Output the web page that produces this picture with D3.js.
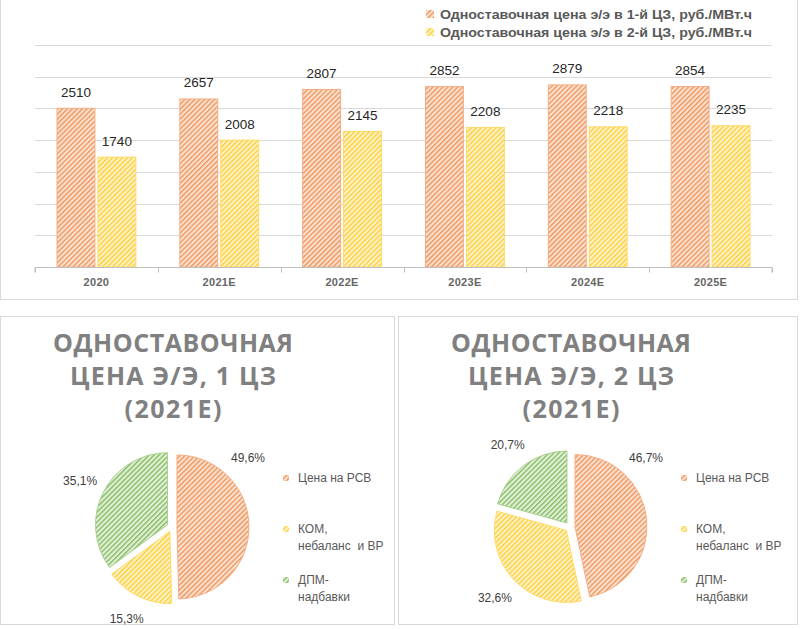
<!DOCTYPE html>
<html>
<head>
<meta charset="utf-8">
<script src="https://cdn.jsdelivr.net/npm/d3@7"></script>
<style>
  body { margin: 0; background: #ffffff; }
  svg { display: block; }
</style>
</head>
<body>
<svg id="chart" width="800" height="629"></svg>
<script>
// --- data ---
const years = ["2020", "2021E", "2022E", "2023E", "2024E", "2025E"];
const zone1 = [2510, 2657, 2807, 2852, 2879, 2854];
const zone2 = [1740, 2008, 2145, 2208, 2218, 2235];
const seriesNames = [
    "Одноставочная цена э/э в 1-й ЦЗ, руб./МВт.ч",
    "Одноставочная цена э/э в 2-й ЦЗ, руб./МВт.ч"
];
const yTicks = [0, 500, 1000, 1500, 2000, 2500, 3000, 3500];

const pieParts = ["Цена на РСВ", "КОМ,|небаланс  и ВР", "ДПМ-|надбавки"];
const pie1 = [49.6, 15.3, 35.1];
const pie2 = [46.7, 32.6, 20.7];
const pieTitles = [
    ["ОДНОСТАВОЧНАЯ", "ЦЕНА Э/Э, 1 ЦЗ", "(2021E)"],
    ["ОДНОСТАВОЧНАЯ", "ЦЕНА Э/Э, 2 ЦЗ", "(2021E)"]
];

const hatches = [
    { id: "hOrange", bg: "#FCE2D1", line: "#F0955C", edge: "#F3AE84" },
    { id: "hYellow", bg: "#FFF4C8", line: "#FFCD3A", edge: "#FFD966" },
    { id: "hGreen",  bg: "#E2F0D9", line: "#86BC62", edge: "#A9D18E" }
];

const svg = d3.select("#chart");
const font = "'Liberation Sans', Arial, sans-serif";

// hatch patterns
const defs = svg.append("defs");
hatches.forEach(h => {
    const p = defs.append("pattern")
        .attr("id", h.id)
        .attr("patternUnits", "userSpaceOnUse")
        .attr("width", 3.5).attr("height", 3.5)
        .attr("patternTransform", "rotate(45)");
    p.append("rect").attr("width", 3.5).attr("height", 3.5).attr("fill", h.bg);
    p.append("rect").attr("width", 1.4).attr("height", 3.5).attr("fill", h.line);
});

// panels
svg.append("rect").attr("x", 0.5).attr("y", -1).attr("width", 797).attr("height", 300.5)
    .attr("fill", "#fff").attr("stroke", "#D9D9D9");
svg.append("rect").attr("x", 0.5).attr("y", 316.5).attr("width", 394).attr("height", 308)
    .attr("fill", "#fff").attr("stroke", "#D9D9D9");
svg.append("rect").attr("x", 398.5).attr("y", 316.5).attr("width", 399).attr("height", 308)
    .attr("fill", "#fff").attr("stroke", "#D9D9D9");

// --- bar chart ---
const x0 = d3.scaleBand().domain(years).range([35, 772]).paddingInner(0.35).paddingOuter(0.175);
const x1 = d3.scaleBand().domain([0, 1]).range([0, x0.bandwidth()]).paddingInner(0.05);
const y = d3.scaleLinear().domain([0, 3500]).range([267, 45]);

svg.append("g").selectAll("line")
    .data(yTicks.filter(t => t > 0))
    .join("line")
    .attr("x1", 35).attr("x2", 772)
    .attr("y1", d => Math.round(y(d)) + 0.5).attr("y2", d => Math.round(y(d)) + 0.5)
    .attr("stroke", "#D9D9D9");

const series = [zone1, zone2];
const groups = svg.append("g").selectAll("g")
    .data(years)
    .join("g")
    .attr("transform", d => `translate(${x0(d)},0)`);

groups.selectAll("rect")
    .data((d, i) => series.map((s, k) => ({ k, v: s[i] })))
    .join("rect")
    .attr("x", d => x1(d.k) + 0.5)
    .attr("y", d => y(d.v) + 0.5)
    .attr("width", x1.bandwidth() - 1)
    .attr("height", d => y(0) - y(d.v) - 0.5)
    .attr("fill", d => `url(#${hatches[d.k].id})`)
    .attr("stroke", d => hatches[d.k].edge)
    .attr("stroke-width", 1);

groups.selectAll("text.val")
    .data((d, i) => series.map((s, k) => ({ k, v: s[i] })))
    .join("text")
    .attr("class", "val")
    .attr("x", d => x1(d.k) + x1.bandwidth() / 2)
    .attr("y", d => y(d.v) - 11)
    .attr("text-anchor", "middle")
    .attr("font-family", font)
    .attr("font-size", 13.5)
    .attr("fill", "#262626")
    .text(d => d.v);

// axis
const axis = d3.axisBottom(x0).tickSize(0).tickPadding(11);
const axG = svg.append("g").attr("transform", `translate(0,${y(0) + 0.5})`).call(axis);
axG.select(".domain").attr("stroke", "#BFBFBF").attr("d", "M35,5V0H772V5");
axG.selectAll("text")
    .attr("font-family", font)
    .attr("font-size", 11)
    .attr("font-weight", "bold")
    .attr("letter-spacing", 0.3)
    .attr("fill", "#666666");
const step = x0.step();
axG.append("g").selectAll("line")
    .data(d3.range(years.length + 1))
    .join("line")
    .attr("x1", i => Math.round(35 + i * step) + 0.5)
    .attr("x2", i => Math.round(35 + i * step) + 0.5)
    .attr("y1", 0).attr("y2", 5)
    .attr("stroke", "#BFBFBF");

// top legend
const leg = svg.append("g").selectAll("g")
    .data(seriesNames)
    .join("g")
    .attr("transform", (d, i) => `translate(426,${14 + i * 18})`);
leg.append("rect")
    .attr("x", 0).attr("y", -4).attr("width", 8).attr("height", 8)
    .attr("fill", (d, i) => `url(#${hatches[i].id})`);
leg.append("text")
    .attr("x", 14).attr("y", 5)
    .attr("font-family", font)
    .attr("font-size", 13)
    .attr("font-weight", "bold")
    .attr("fill", "#595959")
    .attr("textLength", 312)
    .attr("lengthAdjust", "spacingAndGlyphs")
    .text(d => d);

// --- pies ---
const radius = 72;
const explode = 5;
const pie = d3.pie().sort(null).value(d => d);
const arc = d3.arc().innerRadius(0).outerRadius(radius);

function drawPie(values, titles, ox) {
    const g = svg.append("g").attr("transform", `translate(${ox},0)`);

    // title
    const titleWidths = [240, 206, 97];
    g.selectAll("text.title")
        .data(titles)
        .join("text")
        .attr("class", "title")
        .attr("x", 173)
        .attr("y", (d, i) => 352 + i * 33)
        .attr("text-anchor", "middle")
        .attr("font-family", "'Open Sans', sans-serif")
        .attr("font-weight", "bold")
        .attr("font-size", 25)
        .attr("fill", "#808080")
        .attr("textLength", (d, i) => titleWidths[i])
        .attr("lengthAdjust", "spacing")
        .text(d => d);

    const cx = 172, cy = 527;
    const arcs = pie(values);
    const pg = g.append("g").attr("transform", `translate(${cx},${cy})`);
    pg.selectAll("path")
        .data(arcs)
        .join("path")
        .attr("transform", d => {
            const a = (d.startAngle + d.endAngle) / 2;
            return `translate(${Math.sin(a) * explode},${-Math.cos(a) * explode})`;
        })
        .attr("d", arc)
        .attr("fill", (d, i) => `url(#${hatches[i].id})`)
        .attr("stroke", (d, i) => hatches[i].edge)
        .attr("stroke-width", 1);

    pg.selectAll("text")
        .data(arcs)
        .join("text")
        .attr("x", d => {
            let a = (d.startAngle + d.endAngle) / 2;
            if (a < Math.PI) a = Math.min(a, 0.83);
            return Math.sin(a) * 103;
        })
        .attr("y", d => {
            let a = (d.startAngle + d.endAngle) / 2;
            if (a < Math.PI) a = Math.min(a, 0.83);
            return -Math.cos(a) * 103 + 4;
        })
        .attr("text-anchor", "middle")
        .attr("font-family", font)
        .attr("font-size", 12)
        .attr("fill", "#404040")
        .text(d => d3.format(".1f")(d.data).replace(".", ",") + "%");

    // legend
    const lg = g.append("g").selectAll("g")
        .data(pieParts)
        .join("g")
        .attr("transform", (d, i) => `translate(283,${478 + i * 51})`);
    lg.append("rect")
        .attr("x", 0).attr("y", -3).attr("width", 6).attr("height", 6)
        .attr("fill", (d, i) => `url(#${hatches[i].id})`);
    lg.selectAll("text")
        .data(d => d.split("|"))
        .join("text")
        .attr("x", 15)
        .attr("y", (d, i) => 4 + i * 17)
        .attr("font-family", font)
        .attr("font-size", 12)
        .attr("fill", "#595959")
        .attr("xml:space", "preserve")
        .text(d => d);
}

drawPie(pie1, pieTitles[0], 0);
drawPie(pie2, pieTitles[1], 398);
</script>
</body>
</html>
